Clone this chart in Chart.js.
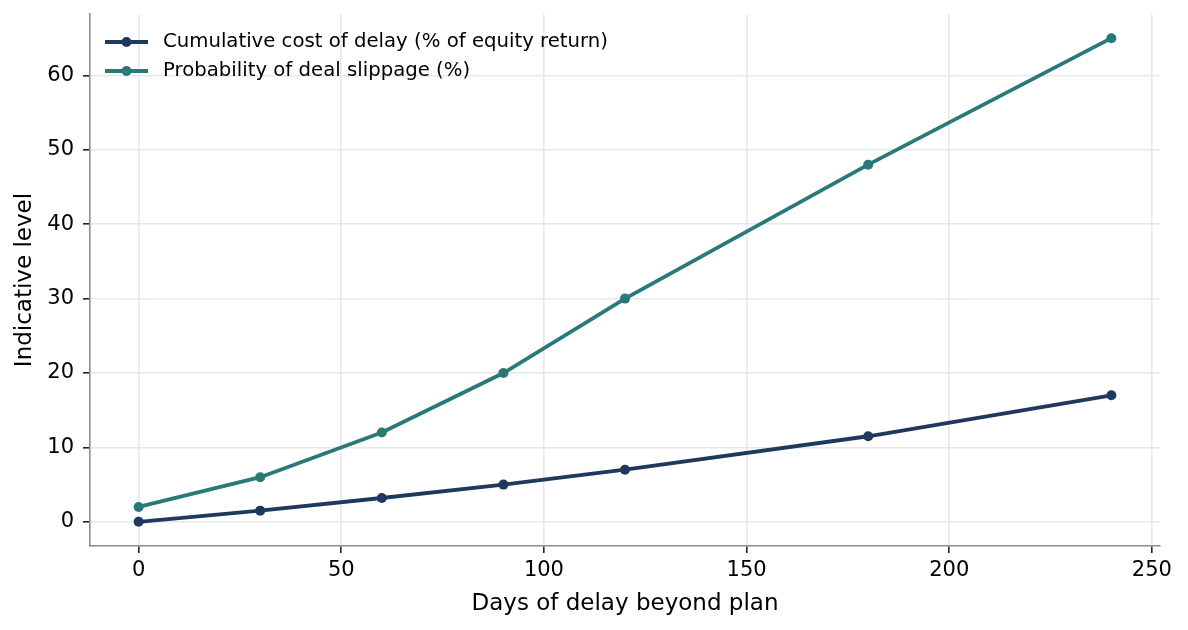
<!DOCTYPE html>
<html>
<head>
<meta charset="utf-8">
<script src="https://cdn.jsdelivr.net/npm/chart.js@4"></script>
<style>
    html, body { margin: 0; padding: 0; background: #ffffff; }
    #wrap { width: 1188px; height: 630px; }
</style>
</head>
<body>
<div id="wrap"><canvas id="delayChart" width="1188" height="630"></canvas></div>
<script>
// data
const days = [0, 30, 60, 90, 120, 180, 240];
const costOfDelay = [0, 1.5, 3.2, 5, 7, 11.5, 17];
const slippageProb = [2, 6, 12, 20, 30, 48, 65];

const xTicks = [0, 50, 100, 150, 200, 250];
const yTicks = [0, 10, 20, 30, 40, 50, 60];

const seriesNames = [
    "Cumulative cost of delay (% of equity return)",
    "Probability of deal slippage (%)"
];

const NAVY = "#1e385e";
const TEAL = "#2a7979";
const GRID = "#e5e8ee";
const FONT = "'DejaVu Sans', sans-serif";

function toPoints(values) {
    return days.map((d, i) => ({ x: d, y: values[i] }));
}

// legend drawn inside the plot, line + dot like matplotlib
const innerLegend = {
    id: "innerLegend",
    afterDraw(chart) {
        const ctx = chart.ctx;
        const area = chart.chartArea;
        const x0 = area.left + 15;
        let y = area.top + 28;

        ctx.save();
        chart.data.datasets.forEach(ds => {
            ctx.strokeStyle = ds.borderColor;
            ctx.lineWidth = 3.8;
            ctx.beginPath();
            ctx.moveTo(x0, y);
            ctx.lineTo(x0 + 43, y);
            ctx.stroke();

            ctx.fillStyle = ds.borderColor;
            ctx.beginPath();
            ctx.arc(x0 + 21.5, y, 5, 0, Math.PI * 2);
            ctx.fill();

            ctx.fillStyle = "#000000";
            ctx.font = "19.7px " + FONT;
            ctx.textBaseline = "middle";
            ctx.textAlign = "left";
            ctx.fillText(ds.label, x0 + 58, y);
            y += 29;
        });
        ctx.restore();
    }
};

const ctx = document.getElementById("delayChart").getContext("2d");

new Chart(ctx, {
    type: "line",
    data: {
        datasets: [
            {
                label: seriesNames[0],
                data: toPoints(costOfDelay),
                borderColor: NAVY,
                backgroundColor: NAVY,
                borderWidth: 3.8,
                pointRadius: 5,
                pointBorderWidth: 0,
                pointHoverRadius: 5,
                tension: 0
            },
            {
                label: seriesNames[1],
                data: toPoints(slippageProb),
                borderColor: TEAL,
                backgroundColor: TEAL,
                borderWidth: 3.8,
                pointRadius: 5,
                pointBorderWidth: 0,
                pointHoverRadius: 5,
                tension: 0
            }
        ]
    },
    options: {
        responsive: false,
        animation: false,
        devicePixelRatio: 1,
        layout: {
            padding: { left: 0, right: 28, top: 14, bottom: 0 }
        },
        plugins: {
            legend: { display: false },
            tooltip: { enabled: false }
        },
        scales: {
            x: {
                type: "linear",
                min: -12,
                max: 252,
                afterBuildTicks: scale => {
                    scale.ticks = xTicks.map(v => ({ value: v }));
                },
                afterFit: scale => { scale.height = 84; },
                grid: {
                    color: GRID,
                    lineWidth: 1.6,
                    tickColor: "#222222",
                    tickLength: 7,
                    tickWidth: 1.6
                },
                border: { color: "#8c8c8c", width: 1.6 },
                ticks: {
                    color: "#000000",
                    font: { family: FONT, size: 21 },
                    padding: 5,
                    maxRotation: 0
                },
                title: {
                    display: true,
                    text: "Days of delay beyond plan",
                    color: "#000000",
                    font: { family: FONT, size: 23 },
                    padding: { top: 0, bottom: 12 }
                }
            },
            y: {
                type: "linear",
                min: -3.25,
                max: 68.25,
                afterBuildTicks: scale => {
                    scale.ticks = yTicks.map(v => ({ value: v }));
                },
                afterFit: scale => {
                    scale.width = 90;
                    scale.paddingTop = 0;
                    scale.paddingBottom = 0;
                },
                grid: {
                    color: GRID,
                    lineWidth: 1.6,
                    tickColor: "#222222",
                    tickLength: 7,
                    tickWidth: 1.6
                },
                border: { color: "#8c8c8c", width: 1.6 },
                ticks: {
                    color: "#000000",
                    font: { family: FONT, size: 21, lineHeight: 1 },
                    padding: 9
                },
                title: {
                    display: true,
                    text: "Indicative level",
                    color: "#000000",
                    font: { family: FONT, size: 23 },
                    padding: { top: 11, bottom: 0 }
                }
            }
        }
    },
    plugins: [innerLegend]
});
</script>
</body>
</html>
